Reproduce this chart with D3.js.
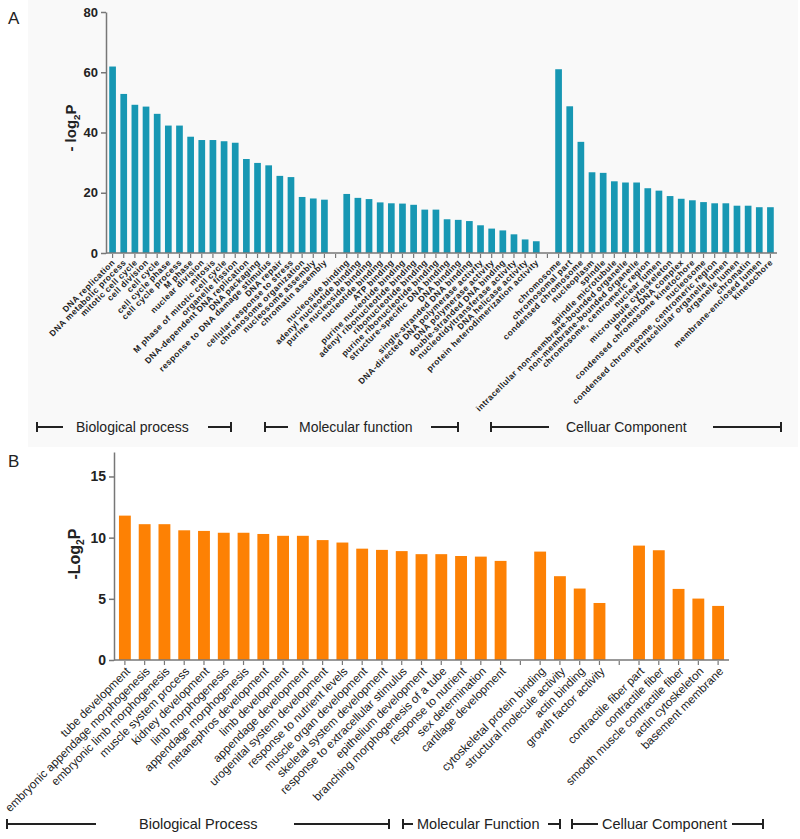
<!DOCTYPE html>
<html><head><meta charset="utf-8">
<script src="https://cdn.jsdelivr.net/npm/d3@7"></script>
<style>
body{margin:0;background:#fff;}
svg{font-family:"Liberation Sans",Arial,sans-serif;}
</style></head>
<body><svg id="c" width="800" height="839"></svg>
<script>
// ---------- Panel A data ----------
const bpA = ["DNA replication","DNA metabolic process","mitotic cell cycle","cell division","cell cycle","cell cycle phase","cell cycle process","M phase","nuclear division","mitosis","M phase of mitotic cell cycle","organelle fission","DNA-dependent DNA replication","DNA packaging","response to DNA damage stimulus","DNA repair","cellular response to stress","chromosome organization","nucleosome assembly","chromatin assembly"];
const bpAVals = [61.9,52.8,49.2,48.6,46.2,42.3,42.3,38.6,37.5,37.5,37.1,36.6,31.2,29.9,29.1,25.6,25.2,18.6,18.1,17.7];
const mfA = ["nucleoside binding","adenyl nucleotide binding","purine nucleoside binding","nucleotide binding","ATP binding","purine nucleotide binding","adenyl ribonucleotide binding","ribonucleotide binding","purine ribonucleotide binding","structure-specific DNA binding","DNA binding","single-stranded DNA binding","DNA-directed DNA polymerase activity","DNA polymerase activity","double-stranded DNA binding","nucleotidyltransferase activity","DNA helicase activity","protein heterodimerization activity"];
const mfAVals = [19.6,18.3,17.9,16.8,16.5,16.4,16.0,14.4,14.4,11.2,11.0,10.6,9.2,8.1,7.5,6.2,4.5,3.9];
const ccA = ["chromosome","chromosomal part","condensed chromosome","nucleoplasm","spindle","spindle microtubule","intracellular non-membrane-bounded organelle","non-membrane-bounded organelle","chromosome, centromeric region","nuclear lumen","microtubule cytoskeleton","protein-DNA complex","condensed chromosome kinetochore","nucleosome","condensed chromosome, centromeric region","intracellular organelle lumen","organelle lumen","chromatin","membrane-enclosed lumen","kinetochore"];
const ccAVals = [61.0,48.7,36.9,26.8,26.6,23.8,23.4,23.4,21.5,20.7,18.9,18.0,17.5,16.9,16.5,16.5,15.7,15.7,15.2,15.2];
const yTicksA = [0,20,40,60,80];
const groupsA = ["Biological process","Molecular function","Celluar Component"];

// ---------- Panel B data ----------
const bpB = ["tube development","embryonic appendage morphogenesis","embryonic limb morphogenesis","muscle system process","kidney development","limb morphogenesis","appendage morphogenesis","metanephros development","limb development","appendage development","urogenital system development","response to nutrient levels","muscle organ development","skeletal system development","response to extracellular stimulus","epithelium development","branching morphogenesis of a tube","response to nutrient","sex determination","cartilage development"];
const bpBVals = [11.8,11.1,11.1,10.6,10.55,10.4,10.4,10.3,10.15,10.15,9.8,9.6,9.1,9.0,8.9,8.65,8.65,8.5,8.45,8.1];
const mfB = ["cytoskeletal protein binding","structural molecule activity","actin binding","growth factor activity"];
const mfBVals = [8.86,6.85,5.84,4.66];
const ccB = ["contractile fiber part","contractile fiber","smooth muscle contractile fiber","actin cytoskeleton","basement membrane"];
const ccBVals = [9.35,8.97,5.81,5.02,4.42];
const yTicksB = [0,5,10,15];
const groupsB = ["Biological Process","Molecular Function","Celluar Component"];

const svg = d3.select("#c");

function buildRows(lists){
  const rows=[]; 
  lists.forEach((l,gi)=>{
    if(gi>0) rows.push({key:"_gap"+gi,label:"",v:null});
    l[0].forEach((n,i)=>rows.push({key:"k"+gi+"_"+i,label:n,v:l[1][i]}));
  });
  return rows;
}

function panel(o){
  const g = svg.append("g");
  if(o.bg) g.append("rect").attr("x",o.bg[0]).attr("y",o.bg[1]).attr("width",o.bg[2]).attr("height",o.bg[3]).attr("fill","#f9f9f9");
  const rows = buildRows(o.lists);
  const x = d3.scaleBand().domain(rows.map(r=>r.key)).range(o.xr).paddingInner(0.4).paddingOuter(0.2);
  const y = d3.scaleLinear().domain(o.yd).range(o.yr);
  g.selectAll("rect.bar").data(rows.filter(r=>r.v!=null)).join("rect")
    .attr("class","bar").attr("x",d=>x(d.key)).attr("width",x.bandwidth())
    .attr("y",d=>y(d.v)).attr("height",d=>y(0)-y(d.v)).attr("fill",o.color);
  const ya = g.append("g").attr("transform",`translate(${o.xr[0]-1},0)`)
    .call(d3.axisLeft(y).tickValues(o.yt).tickSize(5).tickPadding(3).tickSizeOuter(0));
  ya.select(".domain").attr("stroke","#777").attr("stroke-width",1.5);
  ya.selectAll(".tick line").attr("stroke","#777").attr("stroke-width",1.5);
  ya.selectAll("text").attr("font-size",o.ytfs).attr("font-weight","bold").attr("fill","#222").attr("font-family","Liberation Sans, Arial, sans-serif");
  const lab = new Map(rows.map(r=>[r.key,r.label]));
  const xa = g.append("g").attr("transform",`translate(0,${y(0)})`)
    .call(d3.axisBottom(x).tickSize(o.xts).tickSizeOuter(0).tickFormat(k=>lab.get(k)));
  xa.select(".domain").attr("stroke","#777").attr("stroke-width",1.5).attr("d",`M${o.xr[0]-1},0H${o.xr[1]+1}`);
  xa.selectAll(".tick line").attr("stroke","#777").attr("stroke-width",1.2).attr("y1",1);
  xa.selectAll(".tick text").attr("y",0).attr("dy",0)
    .attr("transform",`translate(${o.lx},${o.ly}) rotate(-45)`)
    .attr("text-anchor","end").attr("font-size",o.xfs).attr("font-weight",o.xfw).attr("fill","#222")
    .attr("letter-spacing",o.xls).attr("font-family","Liberation Sans, Arial, sans-serif");
  const yl = g.append("text").attr("transform",`translate(${o.ylx},${o.yly}) rotate(-90)`)
    .attr("text-anchor","middle").attr("font-weight","bold").attr("font-size",o.ylfs).attr("fill","#222");
  yl.append("tspan").text(o.ylab[0]);
  yl.append("tspan").text("2").attr("font-size",o.ylfs*0.65).attr("dy",4);
  yl.append("tspan").text(o.ylab[1]).attr("dy",-4);
  g.append("text").attr("x",o.letter[1]).attr("y",o.letter[2]).attr("font-size",17).attr("fill","#222").text(o.letter[0]);
  o.brackets.forEach((b,i)=>{
    const yb=o.by;
    const gb=g.append("g").attr("stroke","#222").attr("stroke-width",2);
    gb.append("line").attr("x1",b[0]).attr("x2",b[1]).attr("y1",yb).attr("y2",yb);
    gb.append("line").attr("x1",b[3]).attr("x2",b[4]).attr("y1",yb).attr("y2",yb);
    gb.append("line").attr("x1",b[0]).attr("x2",b[0]).attr("y1",yb-5).attr("y2",yb+5);
    gb.append("line").attr("x1",b[4]).attr("x2",b[4]).attr("y1",yb-5).attr("y2",yb+5);
    g.append("text").attr("x",b[2]).attr("y",yb+5).attr("font-size",o.bfs).attr("fill","#222").text(o.groups[i]);
  });
}

panel({lists:[[bpA,bpAVals],[mfA,mfAVals],[ccA,ccAVals]], color:"#1797b3",
  xr:[107,776], yd:[0,80], yr:[253,12], yt:yTicksA, ytfs:13,
  xts:5, lx:3, ly:10, xfs:8.5, xfw:"bold", xls:0.45,
  ylab:["- log","P"], ylx:76, yly:128, ylfs:15,
  letter:["A",8,24], bg:[28,0,770,447],
  by:427, bfs:14, groups:groupsA,
  brackets:[[37,63,76,208,231],[265,288,299,431,458],[491,549,566,713,781]]});

panel({lists:[[bpB,bpBVals],[mfB,mfBVals],[ccB,ccBVals]], color:"#fd8104",
  xr:[115,728], yd:[0,17], yr:[660,452], yt:yTicksB, ytfs:14,
  xts:5, lx:6, ly:12, xfs:11.7, xfw:"normal", xls:0,
  ylab:["-Log","P"], ylx:80, yly:554, ylfs:16,
  letter:["B",8,467], bg:null,
  by:824, bfs:14.5, groups:groupsB,
  brackets:[[7,96,139,294,389],[403,413,417,548,560],[572,598,602,732,763]]});
</script></body></html>
